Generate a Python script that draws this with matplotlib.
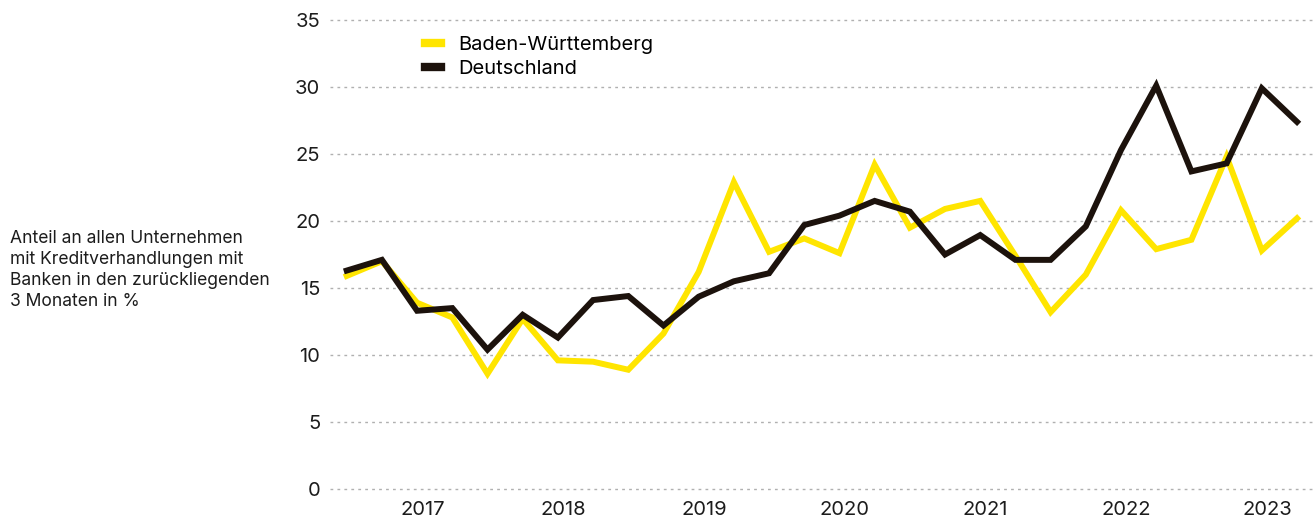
import matplotlib.pyplot as plt

plt.rcParams['font.family'] = ['Inter', 'DejaVu Sans']

# quarters from 2016 Q3 to 2023 Q2
quarters = list(range(28))
year_ticks = [2, 6, 10, 14, 18, 22, 26]
year_labels = ['2017', '2018', '2019', '2020', '2021', '2022', '2023']

baden_wuerttemberg = [15.9, 17.0, 13.9, 12.8, 8.6, 12.7, 9.6, 9.5, 8.9, 11.6,
                      16.2, 22.9, 17.7, 18.7, 17.6, 24.2, 19.5, 20.9, 21.5, 17.4,
                      13.2, 16.0, 20.8, 17.9, 18.6, 24.8, 17.8, 20.2]
deutschland = [16.3, 17.1, 13.3, 13.5, 10.4, 13.0, 11.3, 14.1, 14.4, 12.2,
               14.35, 15.5, 16.1, 19.7, 20.4, 21.5, 20.7, 17.5, 18.95, 17.1,
               17.1, 19.6, 25.3, 30.1, 23.7, 24.3, 29.9, 27.4]

yellow = '#ffe500'
dark = '#1c120c'

W, H = 1316, 518
fig = plt.figure(figsize=(W / 100, H / 100), dpi=100)
ax = fig.add_axes([330 / W, 22.3 / H, 986 / W, 482.4 / H])

ax.plot(quarters, baden_wuerttemberg, color=yellow, lw=4.3, label='Baden-Württemberg',
        solid_joinstyle='miter', zorder=3)
ax.plot(quarters, deutschland, color=dark, lw=4.3, label='Deutschland',
        solid_joinstyle='miter', zorder=4)

ax.set_ylim(-0.5, 35.5)
ax.set_xlim(-0.475, 27.54)
ax.set_yticks(range(0, 36, 5))
ax.set_xticks([t + 0.15 for t in year_ticks])
ax.set_xticklabels(year_labels)
ax.grid(axis='y', color='#b0b0b0', linestyle=(0, (2, 3)), lw=1)
ax.grid(axis='x', visible=False)
ax.set_axisbelow(True)
for s in ax.spines.values():
    s.set_visible(False)
ax.tick_params(axis='both', length=0, labelsize=14.5, colors='#1c1c1c')
ax.tick_params(axis='y', pad=7)
ax.tick_params(axis='x', pad=4)

leg = ax.legend(loc='upper left', bbox_to_anchor=(0.078, 0.99), frameon=False,
                fontsize=14.5, handlelength=0.8, handletextpad=0.85, labelspacing=0.3)
for line in leg.get_lines():
    line.set_linewidth(6)

fig.text(10 / W, 1 - 270 / H, 'Anteil an allen Unternehmen\nmit Kreditverhandlungen mit\n'
         'Banken in den zurückliegenden\n3 Monaten in %', fontsize=12.6, va='center',
         ha='left', linespacing=1.3, color='#1c1c1c')

fig.savefig('out.png', dpi=100)
